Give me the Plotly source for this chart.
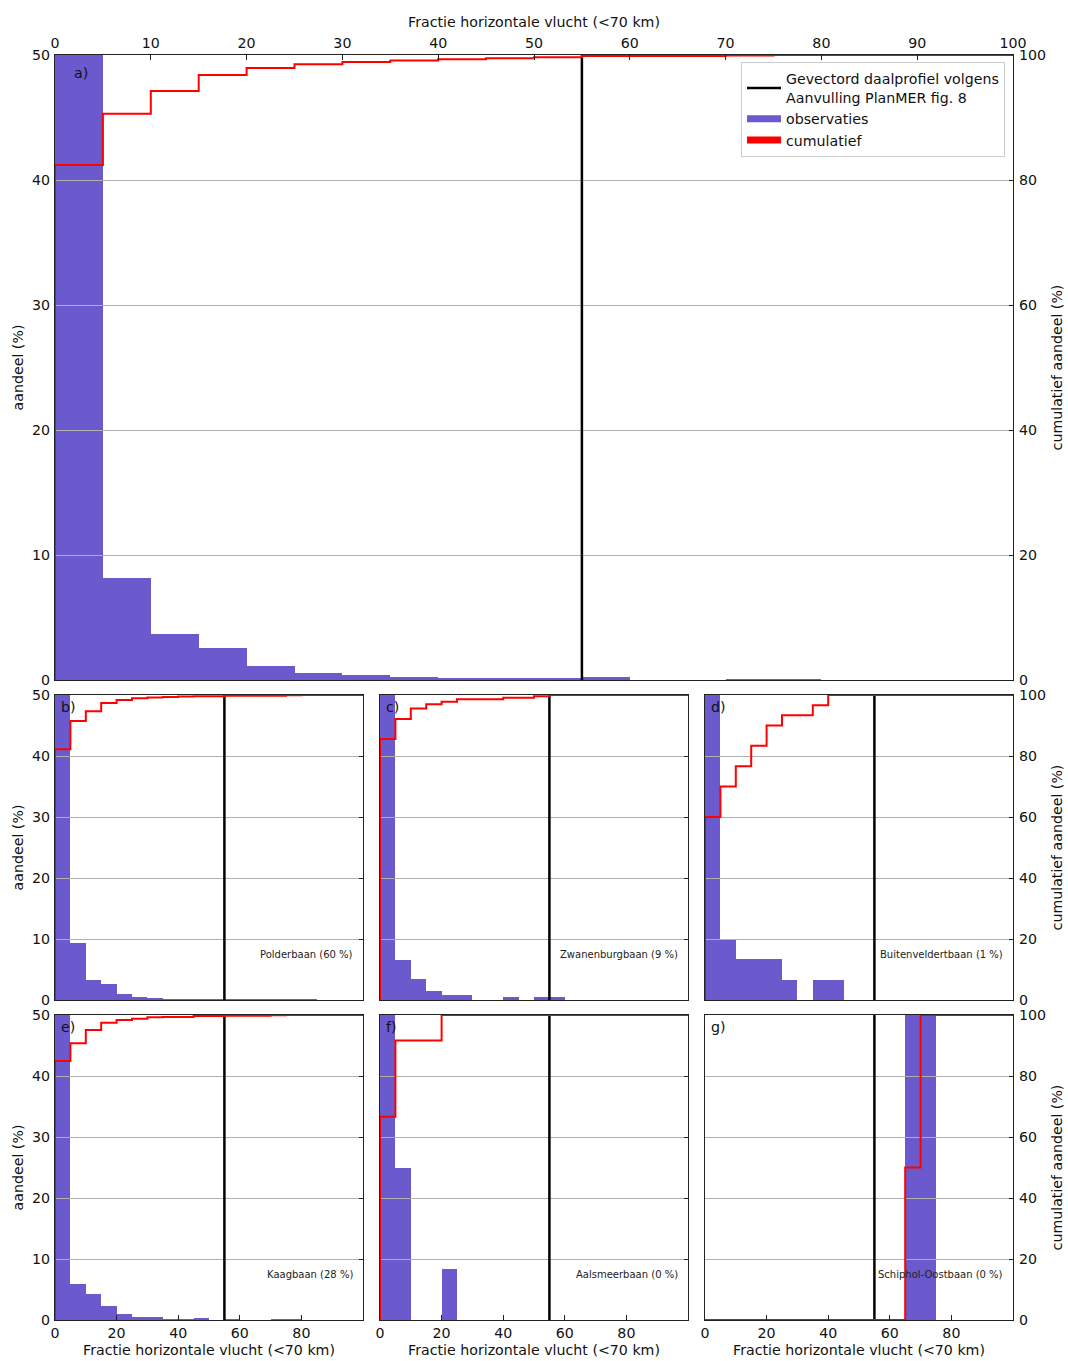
import numpy as np
import plotly.graph_objects as go

# ---------------- data ----------------
bin_edges = list(range(0, 101, 5))          # Fractie horizontale vlucht bins (%)
profile_fraction = 55                        # Gevectord daalprofiel (Aanvulling PlanMER fig. 8)

panel_letters = ["a)", "b)", "c)", "d)", "e)", "f)", "g)"]
runway_labels = ["", "Polderbaan (60 %)", "Zwanenburgbaan (9 %)", "Buitenveldertbaan (1 %)",
                 "Kaagbaan (28 %)", "Aalsmeerbaan (0 %)", "Schiphol-Oostbaan (0 %)"]

obs_all = [82.4, 8.2, 3.65, 2.53, 1.15, 0.59, 0.37, 0.24, 0.19, 0.17,
           0.13, 0.22, 0.0, 0.0, 0.08, 0.08, 0.0, 0.0, 0.0, 0.0]
obs_polderbaan = [82.2, 9.3, 3.2, 2.65, 1.04, 0.55, 0.27, 0.15, 0.12, 0.1,
                  0.05, 0.1, 0.02, 0.02, 0.02, 0.1, 0.1, 0.0, 0.0, 0.0]
obs_zwanenburgbaan = [85.6, 6.5, 3.5, 1.4, 0.8, 0.8, 0.0, 0.0, 0.5, 0.0,
                      0.45, 0.45, 0.0, 0.0, 0.0, 0.0, 0.0, 0.0, 0.0, 0.0]
obs_buitenveldertbaan = [60.0, 10.0, 6.67, 6.67, 6.67, 3.33, 0.0, 3.33, 3.33, 0.0,
                         0.0, 0.0, 0.0, 0.0, 0.0, 0.0, 0.0, 0.0, 0.0, 0.0]
obs_kaagbaan = [84.9, 5.85, 4.32, 2.35, 0.93, 0.44, 0.44, 0.1, 0.05, 0.3,
                0.0, 0.1, 0.0, 0.0, 0.1, 0.1, 0.0, 0.0, 0.0, 0.0]
obs_aalsmeerbaan = [66.67, 25.0, 0.0, 0.0, 8.33, 0.0, 0.0, 0.0, 0.0, 0.0,
                    0.0, 0.0, 0.0, 0.0, 0.0, 0.0, 0.0, 0.0, 0.0, 0.0]
obs_oostbaan = [0.0, 0.0, 0.0, 0.0, 0.0, 0.0, 0.0, 0.0, 0.0, 0.0,
                0.0, 0.0, 0.0, 50.0, 50.0, 0.0, 0.0, 0.0, 0.0, 0.0]

x_ticks_top = list(range(0, 101, 10))
x_ticks_small = [0, 20, 40, 60, 80]
y_ticks_left = [0, 10, 20, 30, 40, 50]
y_ticks_right = [0, 20, 40, 60, 80, 100]

x_title = "Fractie horizontale vlucht (<70 km)"
y_left_title = "aandeel (%)"
y_right_title = "cumulatief aandeel (%)"
legend_profile = "Gevectord daalprofiel volgens<br>Aanvulling PlanMER fig. 8"
legend_obs = "observaties"
legend_cum = "cumulatief"

series = [obs_all, obs_polderbaan, obs_zwanenburgbaan, obs_buitenveldertbaan,
          obs_kaagbaan, obs_aalsmeerbaan, obs_oostbaan]

# ---------------- layout geometry ----------------
W, H = 1068, 1361
ML, MR, MT, MB = 55, 55, 55, 41
PW = W - ML - MR
PH = H - MT - MB

def xd(px0, px1):
    return [(px0 - ML) / PW, (px1 - ML) / PW]

def yd(py_top, py_bot):
    return [(H - MB - py_bot) / PH, (H - MB - py_top) / PH]

cols = [xd(55, 363), xd(380, 688), xd(705, 1013)]
row1 = yd(695, 1000)
row2 = yd(1015, 1320)
panels = [
    dict(xdom=xd(55, 1013), ydom=yd(55, 680), top=True, left=True, right=True, bottom=False),
    dict(xdom=cols[0], ydom=row1, top=False, left=True, right=False, bottom=False),
    dict(xdom=cols[1], ydom=row1, top=False, left=False, right=False, bottom=False),
    dict(xdom=cols[2], ydom=row1, top=False, left=False, right=True, bottom=False),
    dict(xdom=cols[0], ydom=row2, top=False, left=True, right=False, bottom=True),
    dict(xdom=cols[1], ydom=row2, top=False, left=False, right=False, bottom=True),
    dict(xdom=cols[2], ydom=row2, top=False, left=False, right=True, bottom=True),
]

FONT = "DejaVu Sans"
FS = 14.2
BAR_COLOR = "#6A5ACD"
FRAME = "#222222"
GRID = "#b0b0b0"
TXT = "#111111"
TICKFONT = dict(family=FONT, size=FS, color=TXT)

fig = go.Figure()
layout_axes = {}
annotations = []
centers = [(bin_edges[i] + bin_edges[i + 1]) / 2 for i in range(len(bin_edges) - 1)]
widths = [bin_edges[i + 1] - bin_edges[i] for i in range(len(bin_edges) - 1)]

for p, (obs, cfg) in enumerate(zip(series, panels)):
    bi, li = 2 * p + 1, 2 * p + 2
    bx, by, lx, ly = f"x{bi}", f"y{bi}", f"x{li}", f"y{li}"
    first = p == 0

    fig.add_trace(go.Bar(
        x=centers, y=obs, width=widths, xaxis=bx, yaxis=by,
        marker=dict(color=BAR_COLOR, line=dict(width=0)),
        name=legend_obs, showlegend=False, hoverinfo="x+y"))

    cum = np.cumsum(obs)
    xs = [bin_edges[0]] + bin_edges[:-1] + [bin_edges[-1]]
    ys = [0.0] + [float(v) for v in cum] + [float(cum[-1])]
    fig.add_trace(go.Scatter(
        x=[profile_fraction, profile_fraction], y=[y_ticks_right[0], y_ticks_right[-1]],
        xaxis=lx, yaxis=ly, mode="lines", line=dict(color="black", width=2.5),
        name=legend_profile, showlegend=first, legendrank=1))
    fig.add_trace(go.Scatter(
        x=xs, y=ys, xaxis=lx, yaxis=ly, mode="lines",
        line=dict(color="#ff0000", width=2, shape="hv"),
        name=legend_cum, showlegend=False))

    if first:
        # legend entries drawn as thick patches (like the reference legend)
        fig.add_trace(go.Scatter(x=[None], y=[None], xaxis=lx, yaxis=ly, mode="lines",
                                 line=dict(color=BAR_COLOR, width=7),
                                 name=legend_obs, showlegend=True, legendrank=2, hoverinfo="skip"))
        fig.add_trace(go.Scatter(x=[None], y=[None], xaxis=lx, yaxis=ly, mode="lines",
                                 line=dict(color="#ff0000", width=7),
                                 name=legend_cum, showlegend=True, legendrank=3, hoverinfo="skip"))

    # bar subplot axes
    layout_axes[f"xaxis{bi}"] = dict(domain=cfg["xdom"], range=[0, 100], anchor=by,
                                     visible=False, fixedrange=True)
    layout_axes[f"yaxis{bi}"] = dict(
        domain=cfg["ydom"], range=[0, 50], anchor=bx, side="left",
        tickvals=y_ticks_left, ticks="inside", ticklen=4, tickcolor=FRAME,
        showticklabels=cfg["left"], tickfont=TICKFONT, ticklabelstandoff=4,
        title=dict(text=y_left_title if cfg["left"] else "",
                   font=dict(family=FONT, size=FS, color=TXT), standoff=4),
        showgrid=False, zeroline=False, showline=False)

    # line subplot axes (frame + grid on top of bars)
    xt = x_ticks_top if cfg["top"] else x_ticks_small
    show_xlabels = cfg["top"] or cfg["bottom"]
    layout_axes[f"xaxis{li}"] = dict(
        domain=cfg["xdom"], range=[0, 100], anchor=ly,
        side="top" if cfg["top"] else "bottom",
        tickvals=xt, ticks="inside" if show_xlabels else "", ticklen=5, tickcolor=FRAME,
        showticklabels=show_xlabels, tickfont=TICKFONT,
        title=dict(text=x_title if show_xlabels else "",
                   font=dict(family=FONT, size=FS, color=TXT), standoff=4),
        showline=True, mirror=True, linecolor=FRAME, linewidth=1.3,
        showgrid=False, zeroline=False)
    layout_axes[f"yaxis{li}"] = dict(
        domain=cfg["ydom"], range=[0, 100], anchor=lx, side="right",
        tickvals=y_ticks_right, ticks="inside", ticklen=4, tickcolor=FRAME,
        showticklabels=cfg["right"], tickfont=TICKFONT, ticklabelstandoff=2,
        title=dict(text=y_right_title if cfg["right"] else "",
                   font=dict(family=FONT, size=FS, color=TXT), standoff=6),
        showline=True, mirror=True, linecolor=FRAME, linewidth=1.3,
        showgrid=True, gridcolor=GRID, gridwidth=1.2, zeroline=False)

    # panel letter
    if first:
        annotations.append(dict(text=panel_letters[p], xref=f"{lx} domain", yref=f"{ly} domain",
                                x=0.018, y=0.971, xanchor="left", yanchor="middle",
                                showarrow=False, font=dict(family=FONT, size=FS, color=TXT)))
    else:
        annotations.append(dict(text=panel_letters[p], xref=f"{lx} domain", yref=f"{ly} domain",
                                x=0.012, y=0.962, xanchor="left", yanchor="middle",
                                showarrow=False, font=dict(family=FONT, size=FS, color=TXT)))
        annotations.append(dict(text=runway_labels[p], xref=f"{lx} domain", yref=f"{ly} domain",
                                x=0.975, y=0.148, xanchor="right", yanchor="middle",
                                showarrow=False, font=dict(family=FONT, size=10, color="#222222")))

fig.update_layout(
    width=W, height=H,
    margin=dict(l=ML, r=MR, t=MT, b=MB, autoexpand=False),
    paper_bgcolor="white", plot_bgcolor="rgba(0,0,0,0)",
    font=dict(family=FONT, size=FS, color=TXT),
    bargap=0, barmode="overlay",
    annotations=annotations,
    legend=dict(x=(1005 - ML) / PW, y=(H - MB - 62) / PH, xanchor="right", yanchor="top",
                bgcolor="white", bordercolor="#cccccc", borderwidth=1,
                font=dict(family=FONT, size=FS, color=TXT),
                tracegroupgap=0, itemwidth=34),
    showlegend=True,
    **layout_axes,
)

fig.write_html("out.html", config={"displayModeBar": False},
               post_script="document.body.style.margin='0';")
